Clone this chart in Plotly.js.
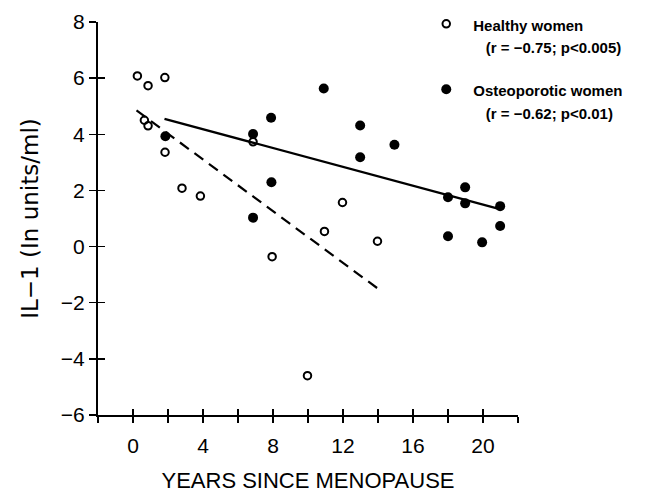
<!DOCTYPE html>
<html>
<head>
<meta charset="utf-8">
<script src="https://cdn.plot.ly/plotly-3.0.1.min.js"></script>
<style>html,body{margin:0;padding:0;background:#fff;}#chart{width:645px;height:493px;}</style>
</head>
<body>
<div id="chart"></div>
<script>
// Healthy women (open circles)
const healthyX = [0.25, 0.86, 1.82, 0.65, 0.86, 1.83, 2.8, 3.85, 6.86, 7.95, 9.97, 10.94, 11.97, 13.97];
const healthyY = [6.08, 5.73, 6.02, 4.5, 4.3, 3.36, 2.08, 1.8, 3.73, -0.36, -4.6, 0.54, 1.57, 0.19];
// Osteoporotic women (filled circles)
const osteoX = [1.85, 6.86, 6.86, 7.89, 7.91, 10.9, 12.98, 12.98, 14.94, 18, 18, 18.98, 18.98, 19.95, 20.98, 20.98];
const osteoY = [3.93, 4.01, 1.03, 4.59, 2.29, 5.63, 4.31, 3.18, 3.63, 1.76, 0.37, 2.11, 1.54, 0.15, 1.44, 0.73];
// Regression lines (end points)
const healthyFitX = [0.2, 14.0];
const healthyFitY = [4.85, -1.5];
const osteoFitX = [1.8, 20.8];
const osteoFitY = [4.55, 1.36];
// Axis ticks
const xTickVals = [-2, 0, 2, 4, 6, 8, 10, 12, 14, 16, 18, 20, 22];
const xTickText = ['', '0', '', '4', '', '8', '', '12', '', '16', '', '20', ''];
const yTickVals = [-6, -4, -2, 0, 2, 4, 6, 8];
const yTickText = ['\u22126', '\u22124', '\u22122', '0', '2', '4', '6', '8'];
// Legend labels
const healthyName = 'Healthy women';
const healthyStat = '(r = \u22120.75; p<0.005)';
const osteoName = 'Osteoporotic women';
const osteoStat = '(r = \u22120.62; p<0.01)';

const axFont = {family: 'Liberation Sans, Arial, sans-serif', size: 21, color: '#000'};
const legSpan = (a, b) => '<span style="font-size:15px">' + a + '<br>\u00a0\u00a0\u00a0' + b + '</span>';

const traces = [
  {x: healthyFitX, y: healthyFitY, mode: 'lines', line: {color: '#000', width: 2.2, dash: '11px,7px'}, showlegend: false, hoverinfo: 'skip'},
  {x: osteoFitX, y: osteoFitY, mode: 'lines', line: {color: '#000', width: 2.2}, showlegend: false, hoverinfo: 'skip'},
  {x: healthyX, y: healthyY, mode: 'markers', name: legSpan(healthyName, healthyStat), legendgroup: 'h',
   marker: {symbol: 'circle-open', size: 7.5, color: '#000', line: {width: 2, color: '#000'}}},
  {x: osteoX, y: osteoY, mode: 'markers', name: legSpan(osteoName, osteoStat), legendgroup: 'o',
   marker: {symbol: 'circle', size: 10, color: '#000'}},
  {x: [], y: [], xaxis: 'x2', yaxis: 'y2', mode: 'markers', showlegend: false, hoverinfo: 'skip'}
];

const baseX = {range: [-2, 22], tickmode: 'array', tickvals: xTickVals, showgrid: false, zeroline: false, fixedrange: true};
const baseY = {range: [-6, 8], tickmode: 'array', tickvals: yTickVals, showgrid: false, zeroline: false, fixedrange: true};

const layout = {
  width: 645, height: 493,
  margin: {l: 98, r: 127, t: 22, b: 78, autoexpand: false},
  paper_bgcolor: '#fff', plot_bgcolor: '#fff',
  font: axFont,
  showlegend: true,
  legend: {xref: 'container', yref: 'container', x: 0.65, y: 0.988, xanchor: 'left', yanchor: 'top', bgcolor: 'rgba(0,0,0,0)',
           font: {family: 'Liberation Sans, Arial, sans-serif', size: 17.5, color: '#000', weight: 'bold'},
           itemwidth: 44, valign: 'top', tracegroupgap: 17, traceorder: 'grouped'},
  xaxis: Object.assign({}, baseX, {
    ticktext: xTickText, ticks: 'outside', ticklen: 6, tickwidth: 1.5, tickcolor: '#000',
    showline: true, linecolor: '#000', linewidth: 2, tickfont: axFont, ticklabelstandoff: 5,
    automargin: true,
    title: {text: 'YEARS SINCE MENOPAUSE', font: Object.assign({}, axFont, {size: 22}), standoff: 22}
  }),
  xaxis2: Object.assign({}, baseX, {
    overlaying: 'x', anchor: 'y', side: 'bottom', ticks: 'inside', ticklen: 6, tickwidth: 1.5, tickcolor: '#000',
    showticklabels: false, showline: false
  }),
  yaxis: Object.assign({}, baseY, {
    ticktext: yTickText, ticks: 'outside', ticklen: 7, tickwidth: 1.5, tickcolor: '#000',
    showline: true, linecolor: '#000', linewidth: 2, tickfont: axFont,
    title: {text: '\u00a0\u00a0IL\u22121 (In units/ml)', font: {family: 'DejaVu Sans, sans-serif', size: 23, color: '#000'}, standoff: 16}
  }),
  yaxis2: Object.assign({}, baseY, {
    overlaying: 'y', anchor: 'x', side: 'left', ticks: 'inside', ticklen: 7, tickwidth: 1.5, tickcolor: '#000',
    showticklabels: false, showline: false
  })
};

Plotly.newPlot('chart', traces, layout, {displayModeBar: false, staticPlot: true});
</script>
</body>
</html>
